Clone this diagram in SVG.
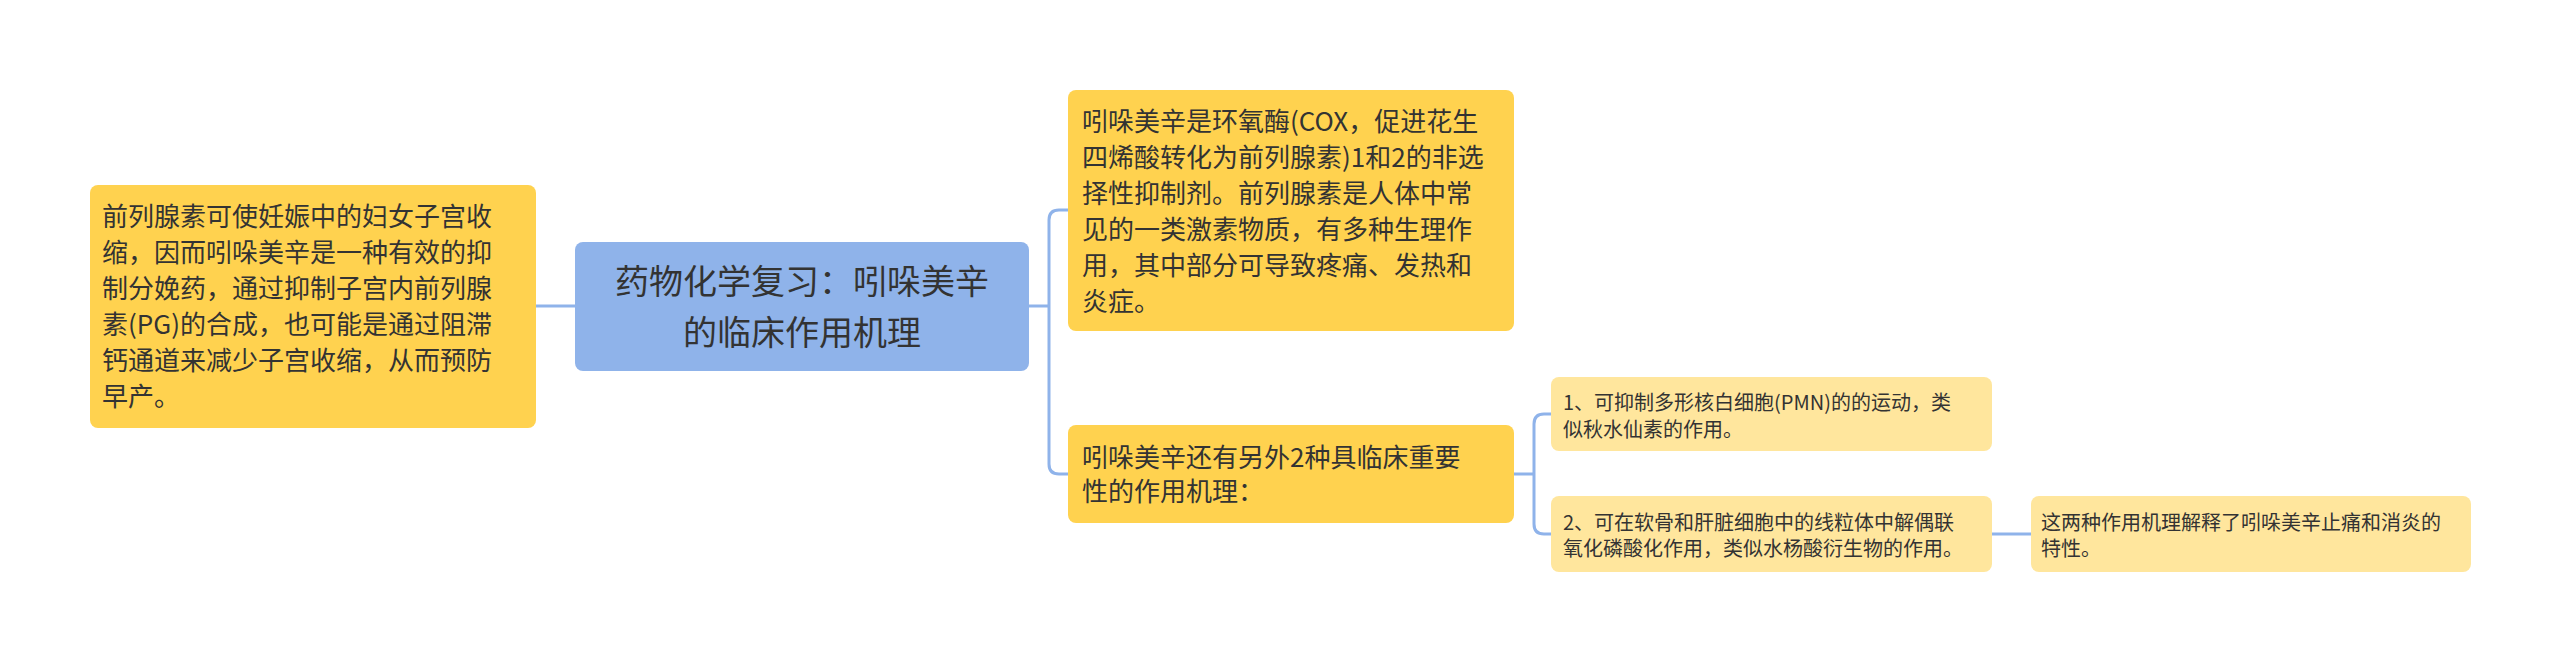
<svg xmlns="http://www.w3.org/2000/svg" width="2560" height="661" viewBox="0 0 2560 661">
<style>
text{font-family:"Noto Sans CJK SC","Noto Sans",sans-serif;fill:#333}
.m{font-size:26px}.s{font-size:20px}.c{font-size:34px;text-anchor:middle}
.y{fill:#FFD24F}.l{fill:#FFE69D}.b{fill:#8FB3EA}
.e{fill:none;stroke:#8FB3EA;stroke-width:3}
</style>
<rect width="2560" height="661" fill="#fff"/>
<g id="connectors">
<path class="e" d="M536 306H575"/>
<path class="e" d="M1029 306H1049M1068 210H1059Q1049 210 1049 220V464Q1049 474 1059 474H1068"/>
<path class="e" d="M1514 474H1534M1551 414H1544Q1534 414 1534 424V524Q1534 534 1544 534H1551"/>
<path class="e" d="M1992 534H2031"/>
</g>
<g id="center"><rect class="b" x="575" y="242" width="454" height="129" rx="8"/>
<text class="c" x="802" y="294">药物化学复习：吲哚美辛</text><text class="c" x="802" y="345">的临床作用机理</text></g>
<g id="left"><rect class="y" x="90" y="185" width="446" height="243" rx="8"/>
<text class="m" x="102"><tspan x="102" y="226">前列腺素可使妊娠中的妇女子宫收</tspan><tspan x="102" y="262">缩，因而吲哚美辛是一种有效的抑</tspan><tspan x="102" y="298">制分娩药，通过抑制子宫内前列腺</tspan><tspan x="102" y="334">素(PG)的合成，也可能是通过阻滞</tspan><tspan x="102" y="370">钙通道来减少子宫收缩，从而预防</tspan><tspan x="102" y="406">早产。</tspan></text></g>
<g id="top"><rect class="y" x="1068" y="90" width="446" height="241" rx="8"/>
<text class="m"><tspan x="1082" y="131">吲哚美辛是环氧酶(COX，促进花生</tspan><tspan x="1082" y="167">四烯酸转化为前列腺素)1和2的非选</tspan><tspan x="1082" y="203">择性抑制剂。前列腺素是人体中常</tspan><tspan x="1082" y="239">见的一类激素物质，有多种生理作</tspan><tspan x="1082" y="275">用，其中部分可导致疼痛、发热和</tspan><tspan x="1082" y="311">炎症。</tspan></text></g>
<g id="mid"><rect class="y" x="1068" y="425" width="446" height="98" rx="8"/>
<text class="m"><tspan x="1082" y="467">吲哚美辛还有另外2种具临床重要</tspan><tspan x="1082" y="501">性的作用机理：</tspan></text></g>
<g id="sub1"><rect class="l" x="1551" y="377" width="441" height="74" rx="8"/>
<text class="s"><tspan x="1563" y="410">1、可抑制多形核白细胞(PMN)的的运动，类</tspan><tspan x="1563" y="437">似秋水仙素的作用。</tspan></text></g>
<g id="sub2"><rect class="l" x="1551" y="496" width="441" height="76" rx="8"/>
<text class="s"><tspan x="1563" y="530">2、可在软骨和肝脏细胞中的线粒体中解偶联</tspan><tspan x="1563" y="556">氧化磷酸化作用，类似水杨酸衍生物的作用。</tspan></text></g>
<g id="leaf"><rect class="l" x="2031" y="496" width="440" height="76" rx="8"/>
<text class="s"><tspan x="2041" y="530">这两种作用机理解释了吲哚美辛止痛和消炎的</tspan><tspan x="2041" y="556">特性。</tspan></text></g>
</svg>
